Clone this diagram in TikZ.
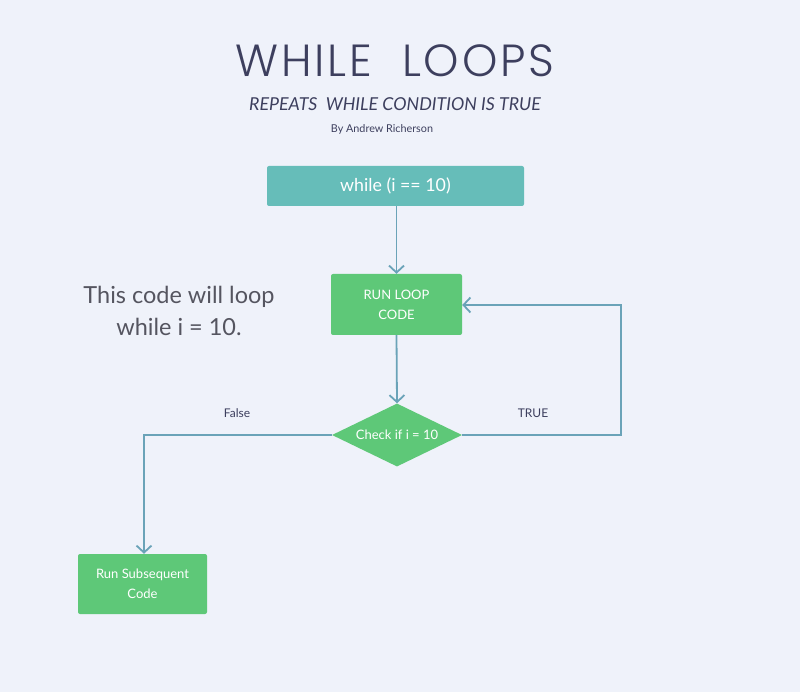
\documentclass[tikz,border=0pt]{standalone}
\usepackage{fontspec}
\setmainfont{Lato}
\newfontfamily\titlefont[LetterSpace=6]{Poppins Light}
\usetikzlibrary{arrows.meta,shapes.geometric}
\definecolor{bg}{HTML}{EFF2FA}
\definecolor{navy}{HTML}{3D3F5E}
\definecolor{teal}{HTML}{66BDB9}
\definecolor{grn}{HTML}{5EC878}
\definecolor{ln}{HTML}{6AA3B8}
\definecolor{gtxt}{HTML}{555560}
\begin{document}
\begin{tikzpicture}[x=1pt,y=-1pt,
  box/.style={rounded corners=2pt,text=white,align=center,inner sep=0pt},
  conn/.style={ln,line width=1.8pt,-{Straight Barb[length=7pt,width=15pt]}},
  lbl/.style={text=navy,font=\fontsize{12}{14}\selectfont}]
\fill[bg] (0,0) rectangle (800,692);
\useasboundingbox (0,0) rectangle (800,692);
\node[inner sep=0pt] (title) at (395,61) {\titlefont\fontsize{45}{50}\selectfont\color{navy}WHILE\ \ LOOPS};
\node[inner sep=0pt] (sub) at (395,104) {\fontsize{17.8}{20}\selectfont\itshape\color{navy}REPEATS\ \ WHILE CONDITION IS TRUE};
\node[inner sep=0pt] (by) at (382,129) {\fontsize{10.8}{13}\selectfont\color{navy}By Andrew Richerson};
\node[box,fill=teal,minimum width=257pt,minimum height=40pt,font=\fontsize{17.8}{20}\selectfont] (w) at (395.5,186) {while (i == 10)};
\node[box,fill=grn,minimum width=131pt,minimum height=61pt,font=\fontsize{13}{20}\selectfont] (run) at (396.5,304.5) {RUN LOOP\\CODE};
\node[diamond,fill=grn,text=white,minimum width=130pt,minimum height=63pt,inner sep=0pt,aspect=2.06,font=\fontsize{13}{15}\selectfont] (chk) at (397,435) {Check if i = 10};
\node[box,fill=grn,minimum width=129pt,minimum height=60pt,font=\fontsize{13}{20}\selectfont] (sub2) at (142.5,584) {Run Subsequent\\Code};
\node[text=gtxt,align=center,font=\fontsize{23.5}{32}\selectfont] (note) at (179,311) {This code will loop\\while i = 10.};
\draw[conn] (w.south -| run.north) -- (run.north);
\draw[conn] (run.south) -- (chk.north);
\coordinate (t1) at (621,435);
\coordinate (t2) at (621,305);
\draw[conn] (chk.east) -- (t1) -- (t2) -- (run.east |- t2);
\coordinate (f1) at (144,435);
\draw[conn] (chk.west) -- (f1) -- (f1 |- sub2.north);
\node[lbl] (tl) at (533,413) {TRUE};
\node[lbl] (fl) at (237,413) {False};
\end{tikzpicture}
\end{document}
